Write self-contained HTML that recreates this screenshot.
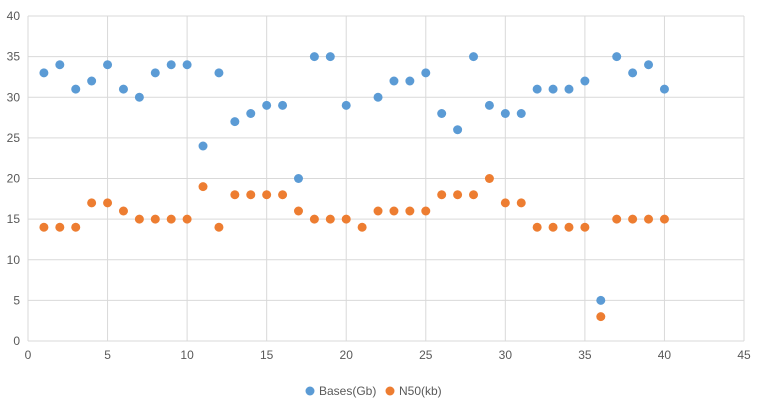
<!DOCTYPE html>
<html><head><meta charset="utf-8"><style>
body{margin:0;background:#fff;font-family:"Liberation Sans",Arial,sans-serif;}
svg text{font-family:"Liberation Sans",Arial,sans-serif;fill:#595959;font-size:12px;}
</style></head><body>
<svg id="chart" width="760" height="406"></svg>
<script>
const xValues=[1,2,3,4,5,6,7,8,9,10,11,12,13,14,15,16,17,18,19,20,21,22,23,24,25,26,27,28,29,30,31,32,33,34,35,36,37,38,39,40];
const basesGb=[33,34,31,32,34,31,30,33,34,34,24,33,27,28,29,29,20,35,35,29,null,30,32,32,33,28,26,35,29,28,28,31,31,31,32,5,35,33,34,31];
const n50kb=[14,14,14,17,17,16,15,15,15,15,19,14,18,18,18,18,16,15,15,15,14,16,16,16,16,18,18,18,20,17,17,14,14,14,14,3,15,15,15,15];
const xTicks=[0,5,10,15,20,25,30,35,40,45];
const yTicks=[0,5,10,15,20,25,30,35,40];
const seriesNames=["Bases(Gb)","N50(kb)"];
const colors=["#5b9bd5","#ed7d31"];
const L=28,R=744,T=16,B=341;
const sx=v=>L+(v-0)/(45-0)*(R-L);
const sy=v=>B-(v-0)/(40-0)*(B-T);
const svg=document.getElementById('chart');
const NS='http://www.w3.org/2000/svg';
function mk(tag,attrs){const e=document.createElementNS(NS,tag);for(const k in attrs)e.setAttribute(k,attrs[k]);svg.appendChild(e);return e;}
yTicks.forEach(t=>{
  const l=mk('line',{x1:L,x2:R,y1:sy(t),y2:sy(t),stroke:'#d9d9d9','stroke-width':1});
  
  
  const tx=mk('text',{x:L-8,y:sy(t)+4,'text-anchor':'end'});tx.textContent=t;
  
  
});
xTicks.forEach(t=>{
  const l=mk('line',{x1:sx(t),x2:sx(t),y1:T,y2:B,stroke:'#d9d9d9','stroke-width':1});
  
  
  const tx=mk('text',{x:sx(t),y:B+18,'text-anchor':'middle'});tx.textContent=t;
  
  
});
[basesGb,n50kb].forEach((arr,si)=>{
  arr.forEach((v,i)=>{
    if(v===null)return;
    const c=mk('circle',{cx:sx(xValues[i]),cy:sy(v),r:4.5,fill:colors[si]});
    
    
  });
});
const lx=[310,390];
seriesNames.forEach((n,i)=>{
  const c=mk('circle',{cx:lx[i],cy:391,r:4.5,fill:colors[i]});
  
  
  const t=mk('text',{x:lx[i]+9,y:395});t.textContent=n;
  
  
});
</script>
</body></html>
